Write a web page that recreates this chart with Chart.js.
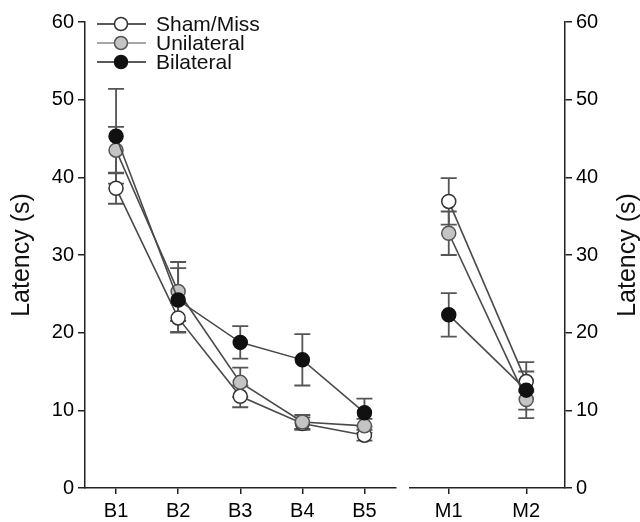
<!DOCTYPE html>
<html>
<head>
<meta charset="utf-8">
<script src="https://cdn.jsdelivr.net/npm/chart.js@4/dist/chart.umd.min.js"></script>
<style>
html,body{margin:0;padding:0;background:#fff;}
#wrap{position:relative;width:640px;height:522px;}
#c1{position:absolute;left:0;top:0;}
#c2{position:absolute;left:400px;top:0;}
</style>
</head>
<body>
<div id="wrap">
<canvas id="c1" width="404" height="522"></canvas>
<canvas id="c2" width="240" height="522"></canvas>
</div>
<script>
// ---- data ----
const labelsB = ['B1', 'B2', 'B3', 'B4', 'B5'];
const labelsM = ['M1', 'M2'];
const seriesNames = ['Sham/Miss', 'Unilateral', 'Bilateral'];
const yTicks = [0, 10, 20, 30, 40, 50, 60];
const shamB = [38.6, 21.9, 11.8, 8.3, 6.8];
const shamBErr = [2.0, 1.9, 1.4, 0.8, 0.7];
const uniB = [43.5, 25.3, 13.6, 8.5, 8.0];
const uniBErr = [3.0, 3.8, 1.9, 0.9, 0.9];
const biB = [45.3, 24.2, 18.75, 16.5, 9.7];
const biBErr = [6.1, 4.1, 2.1, 3.3, 1.8];
const shamM = [36.9, 13.7];
const shamMErr = [3.0, 1.3];
const uniM = [32.8, 11.4];
const uniMErr = [2.8, 1.3];
const biM = [22.3, 12.6];
const biMErr = [2.8, 3.6];
const yTitle = 'Latency (s)';

// ---- styles ----
const FONT = "'Liberation Sans', Arial, Helvetica, sans-serif";
const fills = ['#ffffff', '#c4c4c4', '#111111'];
const borders = ['#333333', '#555555', '#111111'];
const lineCol = '#4a4a4a';

function makeDatasets(vals, errs) {
  return vals.map((v, i) => ({
    label: seriesNames[i],
    data: v,
    errors: errs[i],
    borderColor: lineCol,
    borderWidth: 1.6,
    pointBackgroundColor: fills[i],
    pointBorderColor: borders[i],
    pointBorderWidth: 1.5,
    pointRadius: 7,
    pointHoverRadius: 7,
    tension: 0,
    order: 2 - i
  }));
}

const errorBars = {
  id: 'errorBars',
  beforeDatasetsDraw(chart) {
    const ctx = chart.ctx;
    const ys = chart.scales.y;
    ctx.save();
    ctx.strokeStyle = '#555';
    ctx.lineWidth = 1.8;
    chart.data.datasets.forEach((ds, i) => {
      const meta = chart.getDatasetMeta(i);
      ds.errors.forEach((e, j) => {
        const px = meta.data[j].x;
        const v = ds.data[j];
        const t = ys.getPixelForValue(v + e);
        const b = ys.getPixelForValue(v - e);
        ctx.beginPath();
        ctx.moveTo(px, t); ctx.lineTo(px, b);
        ctx.moveTo(px - 8, t); ctx.lineTo(px + 8, t);
        ctx.moveTo(px - 8, b); ctx.lineTo(px + 8, b);
        ctx.stroke();
      });
    });
    ctx.restore();
  }
};

const legendPlugin = {
  id: 'customLegend',
  afterDraw(chart) {
    const ctx = chart.ctx;
    ctx.save();
    const rows = [24, 43, 62];
    seriesNames.forEach((name, i) => {
      const y = rows[i];
      ctx.strokeStyle = i === 1 ? '#888' : '#222';
      ctx.lineWidth = 1.5;
      ctx.beginPath(); ctx.moveTo(97, y); ctx.lineTo(146, y); ctx.stroke();
      ctx.beginPath(); ctx.arc(121, y, 6.5, 0, Math.PI * 2);
      ctx.fillStyle = fills[i]; ctx.fill();
      ctx.strokeStyle = borders[i]; ctx.stroke();
      ctx.fillStyle = '#111';
      ctx.font = '21px ' + FONT;
      ctx.textBaseline = 'middle';
      ctx.textAlign = 'left';
      ctx.fillText(name, 156, y + 1);
    });
    ctx.restore();
  }
};

const rightTitle = {
  id: 'rightTitle',
  afterDraw(chart) {
    const ctx = chart.ctx;
    ctx.save();
    ctx.translate(228, 255);
    ctx.rotate(-Math.PI / 2);
    ctx.font = '25px ' + FONT;
    ctx.fillStyle = '#111';
    ctx.textAlign = 'center';
    ctx.textBaseline = 'middle';
    ctx.fillText(yTitle, 0, 0);
    ctx.restore();
  }
};

function yScale(position, width, showTitle) {
  return {
    position: position,
    min: 0, max: 60,
    afterBuildTicks(s) { s.ticks = yTicks.map(v => ({ value: v })); },
    afterFit(s) { s.width = width; },
    grid: { drawOnChartArea: false, drawTicks: true, tickLength: 7, color: '#222', lineWidth: 1.5 },
    border: { display: true, color: '#222', width: 1.5 },
    ticks: { color: '#000', font: { family: FONT, size: 20 }, padding: 4 },
    title: { display: showTitle, text: yTitle, color: '#111', font: { family: FONT, size: 25 }, padding: { top: 7, bottom: 0 } }
  };
}

function xScale() {
  return {
    type: 'category',
    offset: true,
    afterFit(s) { s.height = 34; },
    grid: { drawOnChartArea: false, drawTicks: true, tickLength: 6, offset: false, color: '#222', lineWidth: 1.5 },
    border: { display: true, color: '#222', width: 1.5 },
    ticks: { color: '#000', font: { family: FONT, size: 20 }, padding: 5, maxRotation: 0 }
  };
}

const common = {
  responsive: false,
  animation: false,
  plugins: { legend: { display: false }, tooltip: { enabled: false } },
  events: []
};

new Chart(document.getElementById('c1'), {
  type: 'line',
  data: { labels: labelsB, datasets: makeDatasets([shamB, uniB, biB], [shamBErr, uniBErr, biBErr]) },
  options: Object.assign({}, common, {
    layout: { padding: { top: 22, right: 7, left: 0, bottom: 0 } },
    scales: { x: xScale(), y: yScale('left', 85, true) }
  }),
  plugins: [errorBars, legendPlugin]
});

new Chart(document.getElementById('c2'), {
  type: 'line',
  data: { labels: labelsM, datasets: makeDatasets([shamM, uniM, biM], [shamMErr, uniMErr, biMErr]) },
  options: Object.assign({}, common, {
    layout: { padding: { top: 22, right: 0, left: 10, bottom: 0 } },
    scales: { x: xScale(), y: yScale('right', 75, false) }
  }),
  plugins: [errorBars, rightTitle]
});
</script>
</body>
</html>
